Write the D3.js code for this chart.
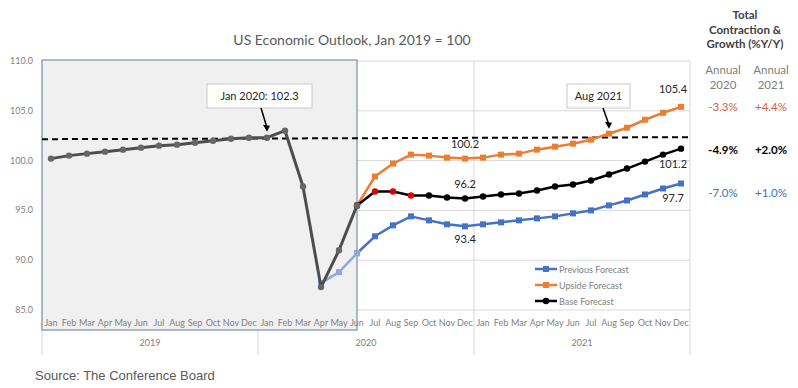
<!DOCTYPE html>
<html>
<head>
<meta charset="utf-8">
<script src="https://cdn.jsdelivr.net/npm/d3@7"></script>
<style>
  body { margin: 0; background: #fff; }
  svg { display: block; }
  text { font-family: Lato, "Open Sans", sans-serif; }
</style>
</head>
<body>
<svg width="798" height="388"></svg>
<script>
// months / years on the two-level category axis
const months = ["Jan","Feb","Mar","Apr","May","Jun","Jul","Aug","Sep","Oct","Nov","Dec"];
const years = ["2019","2020","2021"];
const yTicks = [85, 90, 95, 100, 105, 110];

// actual index, Jan 2019 .. Jun 2020
const history = [100.2, 100.5, 100.7, 100.9, 101.1, 101.3, 101.5, 101.6, 101.8, 102.0, 102.2, 102.3,
                 102.3, 103.0, 97.4, 87.3, 91.0, 95.5];
// previous forecast, Apr 2020 .. Dec 2021 (first three = light segment)
const previous = [87.7, 88.8, 90.7, 92.4, 93.5, 94.4, 94.0, 93.6, 93.4,
                  93.6, 93.8, 94.0, 94.2, 94.4, 94.7, 95.0, 95.5, 96.0, 96.6, 97.2, 97.7];
// upside + base, Jun 2020 .. Dec 2021
const upside = [95.5, 98.4, 99.7, 100.6, 100.5, 100.3, 100.2,
                100.3, 100.6, 100.7, 101.1, 101.4, 101.7, 102.1, 102.7, 103.3, 104.1, 104.8, 105.4];
const base = [95.5, 96.9, 96.9, 96.5, 96.5, 96.3, 96.2,
              96.4, 96.6, 96.7, 97.0, 97.4, 97.6, 98.0, 98.6, 99.2, 99.9, 100.6, 101.2];
const redMonths = ["2020-Jul", "2020-Aug", "2020-Sep"];
const refLine = [102.15, 102.35];   // dashed Jan 2020 level line (start, end)

const growthHead = ["Annual\n2020", "Annual\n2021"];
const growth = [
  {name: "Upside", v: ["-3.3%", "+4.4%"]},
  {name: "Base", v: ["-4.9%", "+2.0%"]},
  {name: "Previous", v: ["-7.0%", "+1.0%"]}
];

const keys = [];
years.forEach(y => months.forEach(m => keys.push(y + "-" + m)));

const svg = d3.select("svg");
const pLeft = 42, pRight = 690, pTop = 61, pBottom = 310;

const x = d3.scaleBand().domain(keys).range([pLeft, pRight]);
const y = d3.scaleLinear().domain([85, 110]).range([pBottom, pTop]);
const cx = k => x(k) + x.bandwidth() / 2;

const col = {blue: "#4472c4", lightBlue: "#8eaadb", orange: "#ed7d31", black: "#000", hist: "#4d4d4d"};

// horizontal gridlines
svg.append("g").selectAll("line").data(yTicks).join("line")
  .attr("x1", pLeft).attr("x2", pRight)
  .attr("y1", d => y(d)).attr("y2", d => y(d))
  .attr("stroke", "#d9d9d9").attr("stroke-width", 1);

// year separators (full height incl. label rows)
const sep = [0, 12, 24].map(i => x(keys[i])).concat([pRight]);
svg.append("g").selectAll("line").data(sep).join("line")
  .attr("x1", d => d).attr("x2", d => d)
  .attr("y1", pTop).attr("y2", 355)
  .attr("stroke", "#d9d9d9");

// shaded history box
const boxRight = cx("2020-Jun");
svg.append("rect")
  .attr("x", pLeft).attr("y", pTop - 1)
  .attr("width", boxRight - pLeft).attr("height", 330 - pTop + 1)
  .attr("fill", "#f0f0f0").attr("stroke", "#8497b0").attr("stroke-width", 1.3);

// y tick labels
svg.append("g").selectAll("text").data(yTicks).join("text")
  .attr("x", 33).attr("y", d => y(d) + 3)
  .attr("text-anchor", "end").attr("font-size", 9).attr("fill", "#7f7f7f")
  .text(d => d.toFixed(1));

// month labels and year labels
svg.append("g").selectAll("text").data(keys).join("text")
  .attr("x", d => cx(d)).attr("y", 326)
  .attr("text-anchor", "middle").attr("font-size", 9).attr("fill", "#7f7f7f")
  .text(d => d.split("-")[1]);
svg.append("g").selectAll("text").data(years).join("text")
  .attr("x", d => (x(d + "-Jan") + x(d + "-Dec") + x.bandwidth()) / 2).attr("y", 346)
  .attr("text-anchor", "middle").attr("font-size", 9).attr("fill", "#7f7f7f")
  .text(d => d);

// dashed reference line
svg.append("line")
  .attr("x1", pLeft).attr("x2", pRight - 2)
  .attr("y1", y(refLine[0])).attr("y2", y(refLine[1]))
  .attr("stroke", "#000").attr("stroke-width", 2).attr("stroke-dasharray", "6,4");

const line = d3.line().x(d => cx(d.k)).y(d => y(d.v));
const series = (vals, startKey) => {
  const s = keys.indexOf(startKey);
  return vals.map((v, i) => ({k: keys[s + i], v}));
};

const prevData = series(previous, "2020-Apr");
const upData = series(upside, "2020-Jun");
const baseData = series(base, "2020-Jun");
const histData = series(history, "2019-Jan");

function drawSeries(data, color, shape, markerColor, width) {
  svg.append("path").datum(data)
    .attr("fill", "none").attr("stroke", color).attr("stroke-width", width || 2.5)
    .attr("stroke-linejoin", "round").attr("d", line);
  const g = svg.append("g");
  if (shape === "square") {
    g.selectAll("rect").data(data).join("rect")
      .attr("x", d => cx(d.k) - 3).attr("y", d => y(d.v) - 3)
      .attr("width", 6).attr("height", 6)
      .attr("fill", d => markerColor ? markerColor(d) : color);
  } else {
    g.selectAll("circle").data(data).join("circle")
      .attr("cx", d => cx(d.k)).attr("cy", d => y(d.v)).attr("r", 3.2)
      .attr("fill", d => markerColor ? markerColor(d) : color);
  }
}

drawSeries(prevData.slice(0, 3), col.lightBlue, "square");
drawSeries(prevData.slice(2), col.blue, "square", d => d.k === "2020-Jun" ? col.lightBlue : col.blue);
drawSeries(upData, col.orange, "square");
drawSeries(baseData, col.black, "circle", d => redMonths.includes(d.k) ? "#e00000" : col.black);
drawSeries(histData, col.hist, "circle", () => "#666666", 3);

// data labels
const labels = [
  {k: "2020-Dec", v: 100.2, dy: -11, t: "100.2"},
  {k: "2020-Dec", v: 96.2, dy: -10, t: "96.2"},
  {k: "2020-Dec", v: 93.4, dy: 17, t: "93.4"},
  {k: "2021-Dec", v: 105.4, dy: -14, t: "105.4"},
  {k: "2021-Dec", v: 101.2, dy: 19, t: "101.2"},
  {k: "2021-Dec", v: 97.7, dy: 18, t: "97.7"}
];
svg.append("g").selectAll("text").data(labels).join("text")
  .attr("x", d => cx(d.k) - (d.k === "2021-Dec" ? 8 : 0)).attr("y", d => y(d.v) + d.dy)
  .attr("text-anchor", "middle").attr("font-size", 11).attr("fill", "#262626")
  .text(d => d.t);

// callouts
function callout(txt, bx, by, bw, k, v) {
  svg.append("rect").attr("x", bx).attr("y", by).attr("width", bw).attr("height", 24)
    .attr("fill", "#fff").attr("stroke", "#c8c8c8");
  svg.append("text").attr("x", bx + bw / 2).attr("y", by + 16)
    .attr("text-anchor", "middle").attr("font-size", 11).attr("fill", "#262626").text(txt);
  const tx = cx(k), ty = y(v) - 6;
  svg.append("line").attr("x1", tx - 6).attr("y1", by + 24).attr("x2", tx).attr("y2", ty - 4)
    .attr("stroke", "#000").attr("stroke-width", 1.5);
  svg.append("path")
    .attr("d", `M${tx},${ty} l-4,-7 l7,1 z`)
    .attr("fill", "#000");
}
callout("Jan 2020: 102.3", 207, 84, 105, "2020-Jan", 102.3);
callout("Aug 2021", 567, 84, 63, "2021-Aug", 102.6);

// legend
const legend = [
  {t: "Previous Forecast", c: col.blue, s: "square"},
  {t: "Upside Forecast", c: col.orange, s: "square"},
  {t: "Base Forecast", c: col.black, s: "circle"}
];
const lg = svg.append("g").selectAll("g").data(legend).join("g")
  .attr("transform", (d, i) => `translate(535,${269 + i * 16})`);
lg.append("line").attr("x1", 0).attr("x2", 22).attr("stroke", d => d.c).attr("stroke-width", 2.5);
lg.filter(d => d.s === "square").append("rect")
  .attr("x", 8).attr("y", -3).attr("width", 6).attr("height", 6).attr("fill", d => d.c);
lg.filter(d => d.s === "circle").append("circle")
  .attr("cx", 11).attr("r", 3.2).attr("fill", d => d.c);
lg.append("text").attr("x", 24).attr("y", 3.5).attr("font-size", 9).attr("fill", "#7f7f7f").text(d => d.t);

// title
svg.append("text").attr("x", 352).attr("y", 45).attr("text-anchor", "middle")
  .attr("font-size", 14).attr("fill", "#595959").text("US Economic Outlook, Jan 2019 = 100");

// right-side growth table
const side = svg.append("g").style("font-family", "'Liberation Sans', Arial, sans-serif");
["Total", "Contraction &", "Growth (%Y/Y)"].forEach((t, i) => {
  side.append("text").attr("x", 745).attr("y", 19 + i * 14.5).attr("text-anchor", "middle")
    .attr("font-size", 11.5).attr("font-weight", "bold").attr("fill", "#404040").text(t);
});
const colX = [723, 771];
growthHead.forEach((h, j) => {
  h.split("\n").forEach((t, i) => {
    side.append("text").attr("x", colX[j]).attr("y", 74 + i * 14.5).attr("text-anchor", "middle")
      .attr("font-size", 11.5).attr("fill", "#808080").text(t);
  });
});
const gColor = {Upside: "#d4603e", Base: "#000", Previous: "#3b73b9"};
const gY = {Upside: 111, Base: 154, Previous: 197};
growth.forEach(g => {
  g.v.forEach((t, j) => {
    side.append("text").attr("x", colX[j]).attr("y", gY[g.name]).attr("text-anchor", "middle")
      .attr("font-size", 11.5).attr("font-weight", g.name === "Base" ? "bold" : "normal")
      .attr("fill", gColor[g.name]).text(t);
  });
});

// source
svg.append("text").attr("x", 35).attr("y", 380)
  .attr("font-size", 13).attr("fill", "#595959")
  .style("font-family", "'Liberation Sans', Arial, sans-serif")
  .text("Source: The Conference Board");
</script>
</body>
</html>
